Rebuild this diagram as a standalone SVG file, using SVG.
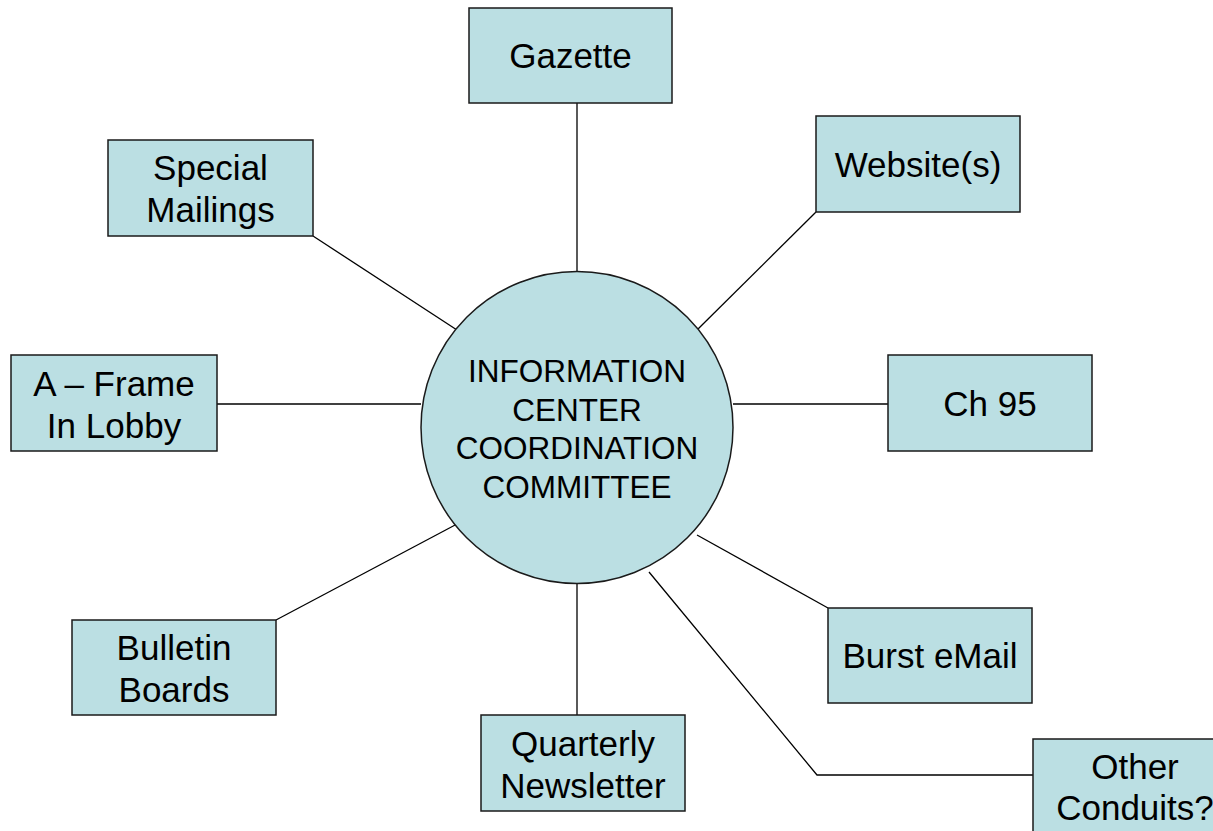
<svg xmlns="http://www.w3.org/2000/svg" width="1213" height="831" viewBox="0 0 1213 831">
<style>
.box{fill:#BBDFE3;stroke:#1a1a1a;stroke-width:1.5}
.t{font-family:"Liberation Sans",Arial,sans-serif;font-size:35px;fill:#000;text-anchor:middle}
.c{font-family:"Liberation Sans",Arial,sans-serif;font-size:31.5px;fill:#000;text-anchor:middle}
.ln{stroke:#000;stroke-width:1.3;fill:none}
</style>
<rect width="1213" height="831" fill="#fff"/>
<g id="connectors">
<line class="ln" x1="577" y1="103" x2="577" y2="272"/>
<line class="ln" x1="313" y1="236" x2="457" y2="330"/>
<line class="ln" x1="816" y1="212" x2="697" y2="330"/>
<line class="ln" x1="217" y1="404" x2="421" y2="404"/>
<line class="ln" x1="733" y1="404" x2="888" y2="404"/>
<line class="ln" x1="276" y1="620" x2="457" y2="524"/>
<line class="ln" x1="697" y1="535" x2="828" y2="608"/>
<line class="ln" x1="577" y1="583" x2="577" y2="715"/>
<polyline class="ln" points="649,572 817,775 1033,775"/>
</g>
<g id="center">
<circle class="box" cx="577" cy="427.5" r="156"/>
<text class="c" x="577" y="382">INFORMATION</text>
<text class="c" x="577" y="421">CENTER</text>
<text class="c" x="577" y="459">COORDINATION</text>
<text class="c" x="577" y="498">COMMITTEE</text>
</g>
<g id="gazette">
<rect class="box" x="469" y="8" width="203" height="95"/>
<text class="t" x="570.5" y="68">Gazette</text>
</g>
<g id="special-mailings">
<rect class="box" x="108" y="140" width="205" height="96"/>
<text class="t" x="210.5" y="180">Special</text>
<text class="t" x="210.5" y="222">Mailings</text>
</g>
<g id="websites">
<rect class="box" x="816" y="116" width="204" height="96"/>
<text class="t" x="918" y="177">Website(s)</text>
</g>
<g id="a-frame">
<rect class="box" x="11" y="355" width="206" height="96"/>
<text class="t" x="114" y="396">A – Frame</text>
<text class="t" x="114" y="438">In Lobby</text>
</g>
<g id="ch95">
<rect class="box" x="888" y="355" width="204" height="96"/>
<text class="t" x="990" y="416">Ch 95</text>
</g>
<g id="bulletin-boards">
<rect class="box" x="72" y="620" width="204" height="95"/>
<text class="t" x="174" y="660">Bulletin</text>
<text class="t" x="174" y="702">Boards</text>
</g>
<g id="burst-email">
<rect class="box" x="828" y="608" width="204" height="95"/>
<text class="t" x="930" y="668">Burst eMail</text>
</g>
<g id="quarterly-newsletter">
<rect class="box" x="481" y="715" width="204" height="96"/>
<text class="t" x="583" y="756">Quarterly</text>
<text class="t" x="583" y="798">Newsletter</text>
</g>
<g id="other-conduits">
<rect class="box" x="1033" y="739" width="204" height="96"/>
<text class="t" x="1135" y="779">Other</text>
<text class="t" x="1135" y="820">Conduits?</text>
</g>
</svg>
